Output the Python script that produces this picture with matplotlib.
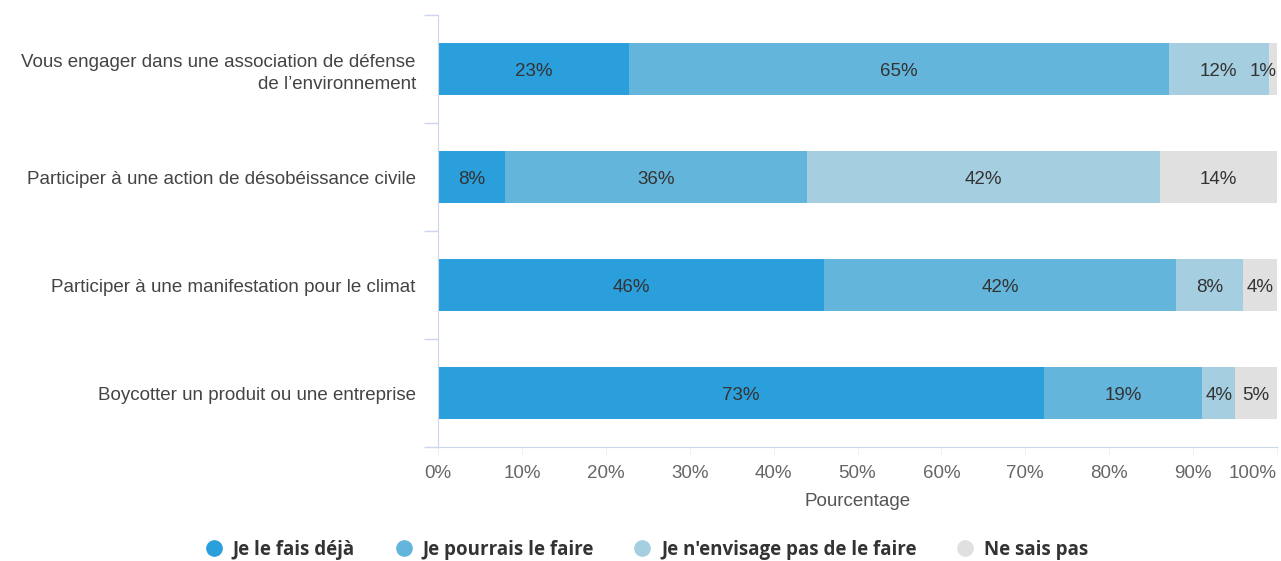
import numpy as np
import matplotlib.pyplot as plt
from matplotlib.lines import Line2D

# data (raw rounded %, rows don't always sum to 100)
questions = [
    "Vous engager dans une association de défense\nde l’environnement",
    "Participer à une action de désobéissance civile",
    "Participer à une manifestation pour le climat",
    "Boycotter un produit ou une entreprise",
]
deja = [23, 8, 46, 73]
pourrais = [65, 36, 42, 19]
envisage_pas = [12, 42, 8, 4]
ne_sais_pas = [1, 14, 4, 5]

series_names = ["Je le fais déjà", "Je pourrais le faire",
                "Je n'envisage pas de le faire", "Ne sais pas"]
colors = ["#2a9fdb", "#64b5db", "#a5cfe1", "#e0e0e0"]

plt.rcParams['font.family'] = ['Liberation Sans', 'DejaVu Sans']
fs = 13.5

raw = np.array([deja, pourrais, envisage_pas, ne_sais_pas], dtype=float)
pct = raw / raw.sum(axis=0) * 100  # percent stacking

fig = plt.figure(figsize=(12.81, 5.61), dpi=100)
ax = fig.add_axes([438 / 1281, 1 - 447 / 561, 839 / 1281, 432 / 561])

y = np.arange(len(questions))
left = np.zeros(len(questions))
for i in range(len(series_names)):
    ax.barh(y, pct[i], left=left, height=0.48, color=colors[i], label=series_names[i])
    for j in range(len(questions)):
        xc = left[j] + pct[i][j] / 2
        ha = "center"
        if left[j] + pct[i][j] > 99.5 and pct[i][j] < 3:
            xc, ha = 100, "right"
        ax.text(xc, y[j] + 0.02, f"{int(raw[i][j])}%", ha=ha, va="center",
                fontsize=fs, color="#333333")
    left += pct[i]

ax.set_xlim(0, 100)
ax.set_ylim(len(questions) - 0.5, -0.5)
ax.set_yticks(y)
ax.set_yticklabels(questions, fontsize=fs, color="#444444", linespacing=1.4)
ax.set_yticks(np.arange(-0.5, len(questions)), minor=True)
ax.tick_params(axis="y", which="major", length=0, pad=16)
ax.tick_params(axis="y", which="minor", length=10, color="#ccd6eb", width=1)

ax.set_xticks(np.arange(0, 101, 10))
ax.set_xticklabels([f"{v}%" for v in range(0, 101, 10)], fontsize=fs, color="#666666")
ax.get_xticklabels()[-1].set_ha("right")
ax.get_xticklabels()[-1].set_x(100.4)
ax.tick_params(axis="x", length=6, color="#eef1f6", pad=7)
ax.set_xlabel("Pourcentage", fontsize=fs, color="#555555", labelpad=8)

for s in ["top", "right"]:
    ax.spines[s].set_visible(False)
ax.spines["left"].set_color("#ccd6eb")
ax.spines["bottom"].set_color("#ccd6eb")

handles = [Line2D([], [], marker="o", linestyle="", markersize=11,
                  markerfacecolor=c, markeredgecolor=c) for c in colors]
fig.legend(handles, series_names, loc="center", bbox_to_anchor=(0.504, 1 - 550 / 561),
           ncol=4, frameon=False, handletextpad=0.4, handlelength=1.2, columnspacing=2.0,
           prop={"family": "Open Sans", "weight": "bold", "size": 13.5}, labelcolor="#333333")

fig.savefig("out.png", dpi=100)
